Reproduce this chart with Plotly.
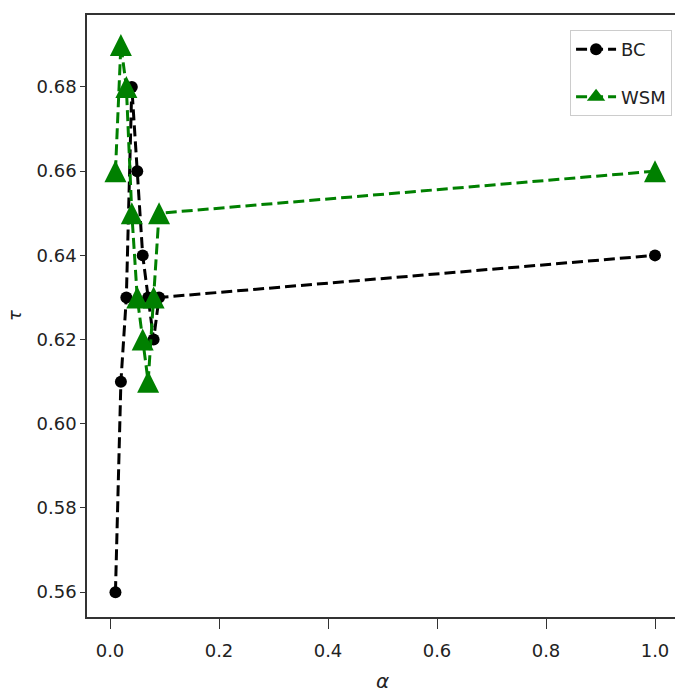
import plotly.graph_objects as go

alpha = [0.01, 0.02, 0.03, 0.04, 0.05, 0.06, 0.07, 0.08, 0.09, 1.0]
bc = [0.56, 0.61, 0.63, 0.68, 0.66, 0.64, 0.63, 0.62, 0.63, 0.64]
wsm = [0.66, 0.69, 0.68, 0.65, 0.63, 0.62, 0.61, 0.63, 0.65, 0.66]
xticks = [0.0, 0.2, 0.4, 0.6, 0.8, 1.0]
yticks = [0.56, 0.58, 0.60, 0.62, 0.64, 0.66, 0.68]

FONT = "DejaVu Sans, sans-serif"
TRI = 22
DASH = "11px,5px"

fig = go.Figure()
fig.add_trace(go.Scatter(
    x=alpha, y=bc, name="BC", mode="lines+markers",
    line=dict(color="black", width=3, dash=DASH),
    marker=dict(symbol="circle", size=12, color="black"),
    legendgroup="a",
))
fig.add_trace(go.Scatter(
    x=alpha, y=wsm, name="WSM", mode="lines+markers",
    line=dict(color="green", width=3, dash=DASH, backoff=0),
    marker=dict(symbol="arrow-down", size=TRI, color="green",
                angle=180, standoff=TRI / 2),
    showlegend=False, legendgroup="b",
))
# legend entry for WSM (no data)
fig.add_trace(go.Scatter(
    x=[None], y=[None], name="WSM", mode="lines+markers",
    line=dict(color="green", width=3, dash=DASH),
    marker=dict(symbol="triangle-up", size=18, color="green"),
    legendgroup="b",
))

axis_common = dict(
    showgrid=False, zeroline=False, showline=True, linecolor="#333",
    linewidth=1.5, ticks="outside", tickwidth=1.2, tickcolor="#333",
    tickfont=dict(family=FONT, size=18, color="#222"),
)
fig.update_xaxes(range=[-0.0422, 1.0367], tickvals=xticks,
                 ticktext=[f"{v:.1f}" for v in xticks], mirror=True,
                 ticklen=10, ticklabelstandoff=7, **axis_common)
fig.update_yaxes(range=[0.5541, 0.6971], tickvals=yticks,
                 ticktext=[f"{v:.2f}" for v in yticks], mirror=False,
                 ticklen=5, **axis_common)

fig.add_annotation(text="<i>α</i>", xref="paper", yref="paper", x=0.503, y=-0.106,
                   showarrow=False, xanchor="center", yanchor="middle",
                   font=dict(family=FONT, size=20, color="#222"))
fig.add_annotation(text="<i>τ</i>", xref="paper", yref="paper", x=-0.124, y=0.5,
                   showarrow=False, xanchor="center", yanchor="middle", textangle=-90,
                   font=dict(family=FONT, size=18, color="#222"))

fig.update_layout(
    width=675, height=696,
    margin=dict(l=87, r=0, t=15, b=79),
    plot_bgcolor="white", paper_bgcolor="white",
    legend=dict(x=0.995, y=0.975, xanchor="right", yanchor="top",
                bordercolor="#ccc", borderwidth=1, bgcolor="white",
                font=dict(family=FONT, size=18, color="#222"),
                tracegroupgap=21, itemwidth=40),
)

fig.write_html("out.html", config={"displayModeBar": False},
               post_script="document.body.style.margin='0';"
                           "document.body.style.overflow='hidden';")
